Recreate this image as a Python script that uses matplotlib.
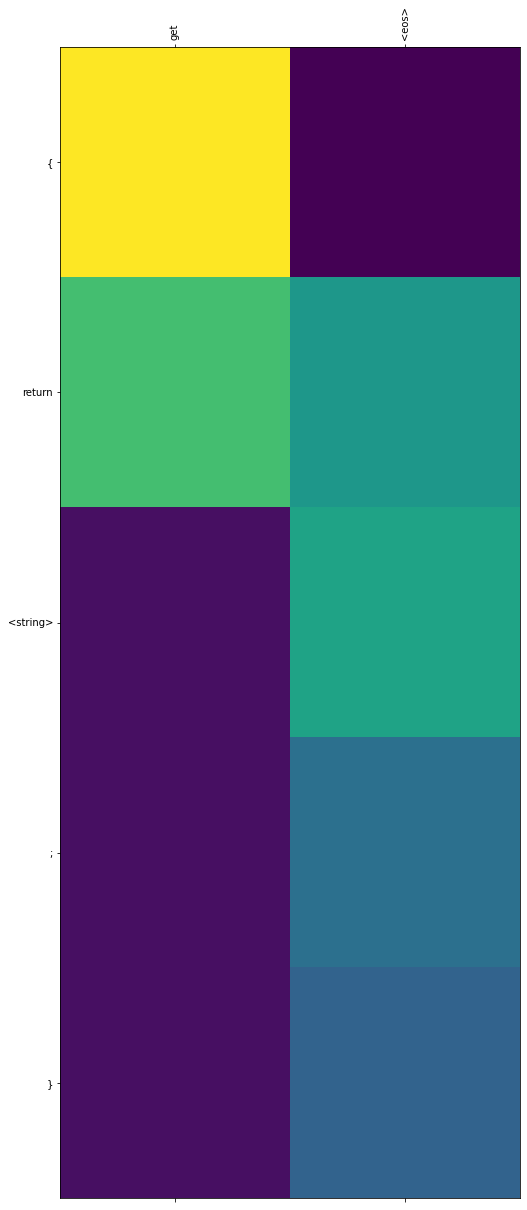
import matplotlib
matplotlib.use("Agg")
import matplotlib.pyplot as plt
import numpy as np

col_labels = ["get", "<eos>"]
row_labels = ["{", "return", "<string>", ";", "}"]
get_vals = [1.0, 0.70, 0.04, 0.04, 0.04]
eos_vals = [0.0, 0.53, 0.58, 0.37, 0.32]

data = np.array([get_vals, eos_vals]).T

fig = plt.figure(figsize=(527 / 72, 1210 / 72), dpi=72)
ax = fig.add_axes([60 / 527, 12 / 1210, 460 / 527, 1151 / 1210])
ax.matshow(data, cmap="viridis", vmin=0, vmax=1, aspect="auto")
ax.set_xticks(range(len(col_labels)))
ax.set_xticklabels(col_labels, rotation=90)
ax.set_yticks(range(len(row_labels)))
ax.set_yticklabels(row_labels)
fig.savefig("out.png", dpi=72)
